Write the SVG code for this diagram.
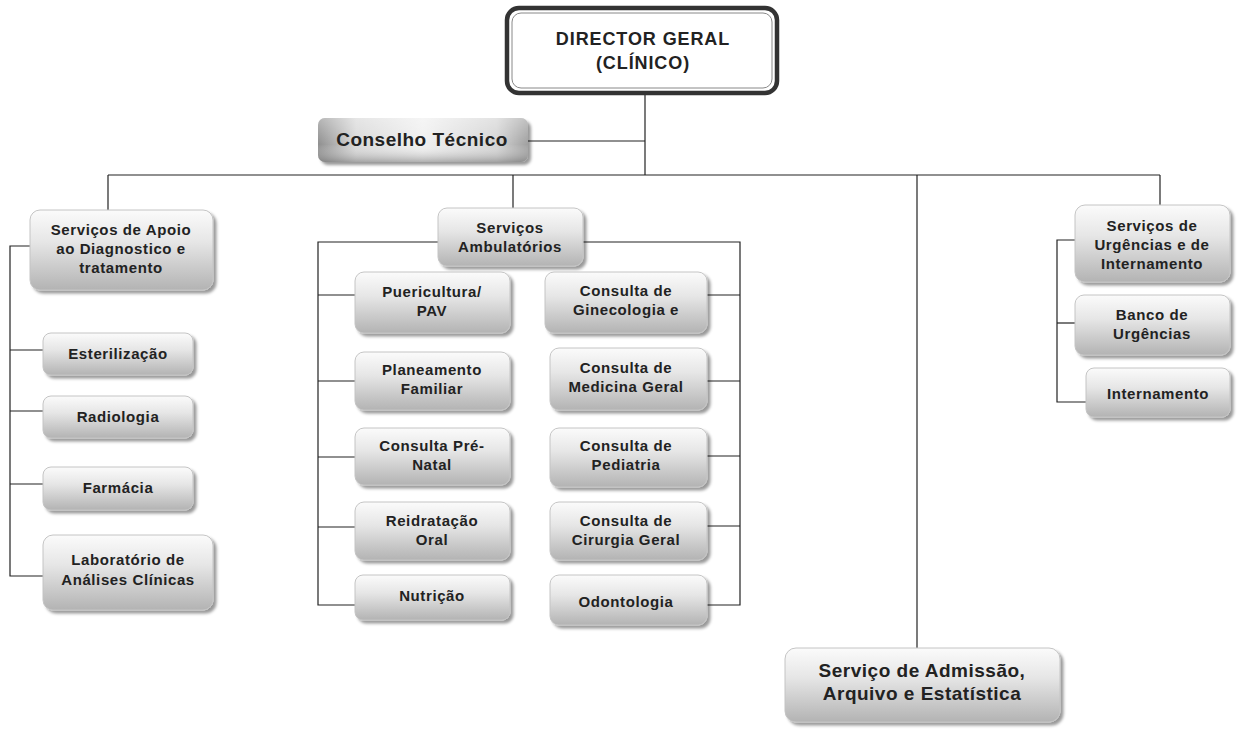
<svg xmlns="http://www.w3.org/2000/svg" width="1243" height="730" viewBox="0 0 1243 730">
  <defs>
    <linearGradient id="boxFill" x1="0" y1="0" x2="0" y2="1">
      <stop offset="0" stop-color="#fbfbfb"/>
      <stop offset="0.4" stop-color="#e6e6e6"/>
      <stop offset="1" stop-color="#b3b3b3"/>
    </linearGradient>
    <linearGradient id="councilFill" x1="0" y1="0" x2="1" y2="0">
      <stop offset="0" stop-color="#8f8f8f"/>
      <stop offset="0.18" stop-color="#d8d8d8"/>
      <stop offset="0.5" stop-color="#f0f0f0"/>
      <stop offset="0.85" stop-color="#d4d4d4"/>
      <stop offset="1" stop-color="#a0a0a0"/>
    </linearGradient>
    <linearGradient id="councilShade" x1="0" y1="0" x2="0" y2="1">
      <stop offset="0" stop-color="#ffffff" stop-opacity="0.35"/>
      <stop offset="0.6" stop-color="#ffffff" stop-opacity="0"/>
      <stop offset="1" stop-color="#707070" stop-opacity="0.5"/>
    </linearGradient>
    <filter id="shadow" x="-10%" y="-10%" width="125%" height="135%">
      <feDropShadow dx="3" dy="3" stdDeviation="1.5" flood-color="#000" flood-opacity="0.4"/>
    </filter>
  </defs>
  <style>
    .box { fill: url(#boxFill); stroke: #c4c4c4; stroke-width: 1; filter: url(#shadow); }
    .lbl { font-family: "Liberation Sans", Arial, sans-serif; font-weight: bold; font-size: 15px; letter-spacing: 0.6px; fill: #222; text-anchor: middle; }
    .big { font-size: 19px; letter-spacing: 0.5px; }
    .head { font-size: 18px; letter-spacing: 0.9px; }
    .wire { fill: none; stroke: #222; stroke-width: 1.2; }
  </style>

  <rect width="1243" height="730" fill="#ffffff"/>

  <!-- connectors -->
  <g id="connectors" class="wire">
    <path d="M645,93 V175"/>
    <path d="M527,141 H645"/>
    <path d="M108,175 H1160"/>
    <path d="M108,175 V210"/>
    <path d="M513,175 V208"/>
    <path d="M917,175 V648"/>
    <path d="M1160,175 V205"/>
    <!-- diagnostic support branch -->
    <path d="M30,246 H10 V576 H43"/>
    <path d="M10,350 H43"/>
    <path d="M10,411 H43"/>
    <path d="M10,484 H43"/>
    <!-- outpatient branch -->
    <path d="M438,242 H318 V605 H355"/>
    <path d="M318,295 H355"/>
    <path d="M318,381 H355"/>
    <path d="M318,457 H355"/>
    <path d="M318,527 H355"/>
    <path d="M583,242 H740 V605 H707"/>
    <path d="M740,295 H707"/>
    <path d="M740,381 H707"/>
    <path d="M740,456 H707"/>
    <path d="M740,526 H707"/>
    <!-- emergency branch -->
    <path d="M1075,240 H1057 V402 H1086"/>
    <path d="M1057,323 H1075"/>
  </g>

  <!-- top -->
  <g id="director">
    <rect x="507" y="8" width="270" height="85" rx="12" fill="#ffffff" stroke="#333" stroke-width="4.5"/>
    <rect x="512" y="13" width="260" height="75" rx="9" fill="none" stroke="#888" stroke-width="1"/>
    <text class="lbl head" x="643" y="45">DIRECTOR GERAL</text>
    <text class="lbl head" x="643" y="69">(CLÍNICO)</text>
  </g>

  <g id="conselho">
    <rect x="318" y="118" width="210" height="44" rx="7" fill="url(#councilFill)" filter="url(#shadow)"/>
    <rect x="318" y="118" width="210" height="44" rx="7" fill="url(#councilShade)"/>
    <text class="lbl big" x="422" y="146">Conselho Técnico</text>
  </g>

  <!-- diagnostic support -->
  <g id="apoio">
    <rect class="box" x="30" y="210" width="183" height="80" rx="10"/>
    <text class="lbl" x="121" y="235">Serviços de Apoio</text>
    <text class="lbl" x="121" y="254">ao Diagnostico e</text>
    <text class="lbl" x="121" y="273">tratamento</text>
  </g>
  <g id="esterilizacao">
    <rect class="box" x="43" y="333" width="150" height="42" rx="8"/>
    <text class="lbl" x="118" y="359">Esterilização</text>
  </g>
  <g id="radiologia">
    <rect class="box" x="43" y="396" width="150" height="42" rx="8"/>
    <text class="lbl" x="118" y="422">Radiologia</text>
  </g>
  <g id="farmacia">
    <rect class="box" x="43" y="467" width="150" height="43" rx="8"/>
    <text class="lbl" x="118" y="493">Farmácia</text>
  </g>
  <g id="laboratorio">
    <rect class="box" x="43" y="535" width="170" height="75" rx="10"/>
    <text class="lbl" x="128" y="565">Laboratório de</text>
    <text class="lbl" x="128" y="585">Análises Clínicas</text>
  </g>

  <!-- outpatient services -->
  <g id="ambulatorios">
    <rect class="box" x="438" y="208" width="145" height="58" rx="9"/>
    <text class="lbl" x="510" y="233">Serviços</text>
    <text class="lbl" x="510" y="252">Ambulatórios</text>
  </g>
  <g id="puericultura">
    <rect class="box" x="355" y="272" width="155" height="61" rx="9"/>
    <text class="lbl" x="432" y="297">Puericultura/</text>
    <text class="lbl" x="432" y="316">PAV</text>
  </g>
  <g id="planeamento">
    <rect class="box" x="355" y="352" width="155" height="58" rx="9"/>
    <text class="lbl" x="432" y="375">Planeamento</text>
    <text class="lbl" x="432" y="394">Familiar</text>
  </g>
  <g id="prenatal">
    <rect class="box" x="355" y="428" width="155" height="57" rx="9"/>
    <text class="lbl" x="432" y="451">Consulta Pré-</text>
    <text class="lbl" x="432" y="470">Natal</text>
  </g>
  <g id="reidratacao">
    <rect class="box" x="355" y="502" width="155" height="58" rx="9"/>
    <text class="lbl" x="432" y="526">Reidratação</text>
    <text class="lbl" x="432" y="545">Oral</text>
  </g>
  <g id="nutricao">
    <rect class="box" x="355" y="575" width="155" height="45" rx="8"/>
    <text class="lbl" x="432" y="601">Nutrição</text>
  </g>
  <g id="ginecologia">
    <rect class="box" x="545" y="272" width="162" height="61" rx="9"/>
    <text class="lbl" x="626" y="296">Consulta de</text>
    <text class="lbl" x="626" y="315">Ginecologia e</text>
  </g>
  <g id="medicina">
    <rect class="box" x="550" y="348" width="157" height="62" rx="9"/>
    <text class="lbl" x="626" y="373">Consulta de</text>
    <text class="lbl" x="626" y="392">Medicina Geral</text>
  </g>
  <g id="pediatria">
    <rect class="box" x="550" y="428" width="157" height="59" rx="9"/>
    <text class="lbl" x="626" y="451">Consulta de</text>
    <text class="lbl" x="626" y="470">Pediatria</text>
  </g>
  <g id="cirurgia">
    <rect class="box" x="550" y="502" width="157" height="58" rx="9"/>
    <text class="lbl" x="626" y="526">Consulta de</text>
    <text class="lbl" x="626" y="545">Cirurgia Geral</text>
  </g>
  <g id="odontologia">
    <rect class="box" x="550" y="575" width="157" height="50" rx="9"/>
    <text class="lbl" x="626" y="607">Odontologia</text>
  </g>

  <!-- emergency and inpatient -->
  <g id="urgencias">
    <rect class="box" x="1075" y="205" width="155" height="77" rx="10"/>
    <text class="lbl" x="1152" y="231">Serviços de</text>
    <text class="lbl" x="1152" y="250">Urgências e de</text>
    <text class="lbl" x="1152" y="269">Internamento</text>
  </g>
  <g id="banco">
    <rect class="box" x="1075" y="295" width="155" height="60" rx="9"/>
    <text class="lbl" x="1152" y="320">Banco de</text>
    <text class="lbl" x="1152" y="339">Urgências</text>
  </g>
  <g id="internamento">
    <rect class="box" x="1086" y="368" width="144" height="49" rx="8"/>
    <text class="lbl" x="1158" y="399">Internamento</text>
  </g>

  <!-- records -->
  <g id="admissao">
    <rect class="box" x="785" y="648" width="275" height="74" rx="11"/>
    <text class="lbl big" x="922" y="677">Serviço de Admissão,</text>
    <text class="lbl big" x="922" y="700">Arquivo e Estatística</text>
  </g>
</svg>
